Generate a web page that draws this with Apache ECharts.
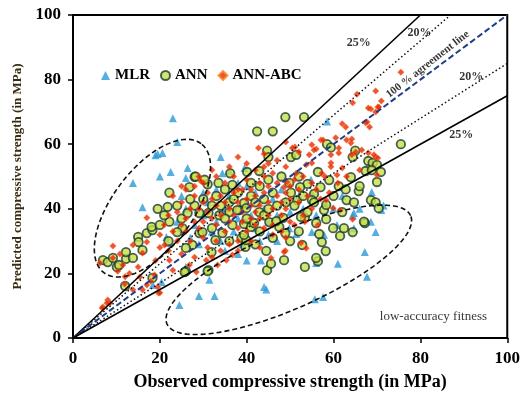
<!DOCTYPE html>
<html>
<head>
<meta charset="utf-8">
<script src="https://cdn.jsdelivr.net/npm/echarts@6/dist/echarts.min.js"></script>
<style>html,body{margin:0;padding:0;background:#fff}#c{width:523px;height:405px}</style>
</head>
<body>
<div id="c"></div>
<script>
// ---- data ----
const xTicks = [0, 20, 40, 60, 80, 100];
const seriesNames = ['MLR', 'ANN', 'ANN-ABC'];

const mlrData = [
[23,68],[19,56.6],[19.5,57],[20.6,57.3],[24,60.7],[13.8,48],[20,50],[22.5,51.4],[16,40.5],[26.4,52.6],[26,49.5],[34,56],[34.4,51],[36,51.7],[39.5,52.6],
[58.5,67],[68.8,45.2],[54.8,49],[64.4,38],[71,39.6],[68.6,36],[69.7,32.8],[64.7,34],[60.8,35],[57.8,32],[55,32.8],[51.4,32.2],[49.8,34],[67.2,26.6],[67.7,19],
[61,23],[56,23.2],[55.7,12],[57.6,12.7],[48.9,42.4],[24.5,10.2],[29,13],[32.6,13],[44,15.8],[44.5,15],[31.4,18],[26,22],[43.3,24],[45,32],[18.4,16.4],
[21.5,31.3],[21.8,29.4],[20.4,17.3],[64.7,38.7],[71.5,41],
[28,35],[30,38],[31,42],[33,36],[35,40],[36,44],[38,37],[40,42],[41,38],[42,45],[44,40],[45,36],[46,43],[47,38],[48,46],[50,39],[52,44],[53,40],
[27,31],[29,29],[32,33],[34,30],[37,33],[39,29],[42,34],[43,30],[47,30],[24,36],[26,40],[25,44],[33,46],[38,48],[30,45],[40,47],[55,45],[58,42],
[60,40],[62,44],[66,40],[56,38],[38,26],[35,27],[40,24]
];

const annData = [
[42.4,64],[28,49.9],[22.2,45],[46,64],[44.7,58],[45,56],[42.9,51.7],[40.1,51.4],[36.2,51],[28.2,50],[26.8,46.7],[31,47.6],[33.5,48],[36.7,47.4],[30.3,49],
[48.9,68.4],[53.2,68.4],[75.5,60],[58.5,60],[59.4,59],[50.2,56],[51.4,56.7],[65,58],[64.4,56],[68,54.8],[69,54.2],[70,53.6],[67.4,51.7],[68.8,52],[70.9,51.4],
[70,48.3],[64,49.8],[56.4,51.4],[59,48.9],[61.2,47],[62.8,46],[65.8,45.5],[57,46.7],[52,50],[54,47.7],[55.5,44.6],[52.3,46.7],[49.8,48],[50.2,45],
[63,42.7],[64.7,42],[68.6,42.7],[69.7,42],[70.4,40.2],[67.2,35.6],[64.4,32.8],[61.5,31.6],[59.9,34],[58.2,26.9],[56.4,23.8],[56,24.8],[53.4,22],[57.3,29.7],
[52.8,28.8],[48.6,24.1],[56.7,32.2],[53.4,37.2],[56,35.6],[58.3,36.8],[48.9,32.5],[47.5,34.4],[51.6,42.7],[55,42.7],[55.5,42],[57.8,39.6],[58.3,41.2],[52.5,37.5],[48.4,37.2],
[44.5,27],[39.7,28.2],[38.8,31],[39.4,35.3],[41,34.4],[41.7,35.6],[31.2,21],[31.9,26.6],[32.8,30.3],[26,20.7],[27.5,28.8],[26,27.9],[25.2,34],[29.1,32.5],
[36,42],[38.3,39.6],[39.4,41.8],[42.9,39],[45.2,35.9],[46.8,36.2],
[6.9,24.1],[8,23.5],[9.2,24.8],[10.1,22],[10.6,22.6],[12.2,24.5],[13.8,24.8],[15,31.3],[17,32.5],[18.3,33.4],[18.1,34.4],[12.2,26.6],[15.1,29.7],[16,27.2],
[19.5,40],[21.8,40.6],[22.2,36],[25,37],[26.4,38.7],[24,32.8],[18.3,18.6],[12,16.1],[25.7,20.4],[31,20.7],[39.9,30.3],[39.4,31.9],[34.4,32.5],[36.7,35],
[32,34],[29.8,32.8],[29.1,38.7],[31.2,38.7],[33.7,38],[36,39],[37.8,39.6],[39.9,40.2],
[30,43],[33,44],[35,46],[38,45],[41,44],[43,47],[44,43],[46,45],[47,41],[48,50],[45,49],[42,42],[34,41],[28,41],[27,43],[24,41],[21,38],[20,35],
[44,38],[46,31],[42,29],[50,30],[52,33],[54,39],[60,44],[62,39],[66,47],[41,48],[37,43],[32,41],[35,37],[43,33],[36,30],[49,42],[51,41],[53,44],
[45,40],[40,37],[22,30],[44.7,21],[45.6,23],[62.4,34],[67,36]
];

const annAbcData = [
[75.5,82.3],[69.7,76.5],[65.4,75.5],[71,73.4],[70.2,71.5],[68.6,70.9],[64.4,72.8],[67.4,66.6],[68.3,65.3],[62,66.3],[62.8,65.3],[60.5,62],[63,61.3],[64,60.4],
[57.1,61.3],[55,59.8],[56,58.5],[54.4,56.7],[51.1,59.1],[49,60.7],[61.2,57.3],[64.2,56.7],[65.1,57.6],[59.4,54.2],[68,57.3],[69.7,56],[70,50.5],[68,71.2],
[70.4,71.5],[69.7,70],[67.7,66.9],[57.6,61.3],[64.2,61.6],[55.5,58.2],[61.2,58.8],[59.4,56.7],[66.5,58.2],[69.3,56.7],[70.2,55.7],[50.5,58.8],[52,57.6],
[49,53],[53.7,53.6],[55,54.2],[59.4,53],[62,52.6],[60.8,50.5],[51.4,51],[57.3,51],[48.6,46.7],[49.3,48.3],[42.7,58.8],[29.4,48.6],
[9.2,28.5],[10.3,20.7],[6.9,9.6],[8,11.8],[8.5,10.8],[11.9,16.7],[15.4,18.9],[16,14.9],[13.8,14.9],[17,16.4],[19.7,13.9],[19.5,15.8],[17.9,17.6],[18.8,19.5],
[13.8,28.8],[16,26.3],[17,29.7],[9.2,24.8],[6.2,23.2],[11.5,22.6],[10.8,26],[6.7,9.3],[7.8,10.8],[20,14],[28.4,20.4],[26.8,22.6],[30.7,24.1],[33.3,22.6],
[35.3,24.1],[36.7,25.7],[22.2,24.1],[21.1,28.8],[17,37.2],
[20,32],[21,35],[22,38],[23,33],[24,30],[24,39],[25,35],[25,42],[26,33],[26,37],[27,40],[27,30],[28,36],[28,44],[29,34],[29,40],[30,31],[30,36],[30,42],
[31,28],[31,39],[31,45],[32,37],[32,43],[33,30],[33,35],[33,41],[34,38],[34,44],[34,27],[35,33],[35,42],[35,48],[36,36],[36,40],[36,29],[37,38],[37,45],
[37,50],[38,34],[38,42],[38,30],[39,39],[39,46],[39,36],[40,33],[40,43],[40,49],[41,37],[41,41],[41,46],[42,39],[42,44],[42,35],[43,41],[43,48],[43,37],
[44,45],[44,34],[44,50],[45,42],[45,38],[45,47],[46,40],[46,51],[46,35],[47,44],[47,48],[48,42],[48,38],[49,45],[49,40],[50,43],[50,47],[50,36],[51,49],
[52,42],[52,46],[53,50],[54,44],[55,48],[56,46],[58,50],[45,54],[42,52],[47,55],[40,54],[38,56],[44,57],[36,53],[33,50],[30,48],[28,47],[26,46],[23,44],
[22,27],[25,26],[28,25],[32,25],[38,27],[41,30],[43,28],[46,32],[48,33],[51,35],[53,38],[55,40],[57,43],[59,45],[61,48],[63,50],[66,52],[20,28],[23,21],
[19,24],[15,22],[13,20],[12,19],[25,47],[29,50],[32,52],[38,46],[44,53],
[48.9,27],[53.7,27.8],[52.5,29.4],[64.4,36.8],[61.5,39.6],[59.9,40.2],[49,31],[53.4,36],[56.4,35],[58.3,42.7],[48.6,26.6],[45.6,24.8]
];

// error-band slopes (predicted = factor * observed)
const bandFactors = [1.25, 1.15, 1.0, 0.85, 0.75];
const bandStyles  = ['solid', 'dotted', 'agree', 'dotted', 'solid'];

// annotation texts
const noteTexts = ['25%', '20%', '100 % agreement line', '20%', '25%', 'low-accuracy fitness'];
const notePos = [[65.8, 91.3], [79.8, 94.4], [81.7, 84.7], [91.7, 80.8], [89.4, 62.8], [83, 6.5]];

// ellipse annotations (center in data units, radii in x-data units, angle in degrees on screen)
const ellipses = [
  {cx: 18.3, cy: 40.2, a: 18.6, b: 9.2, angle: 53},
  {cx: 49.7, cy: 21.1, a: 30.7, b: 8.9, angle: 24}
];

// ---- chart ----
const serif = 'Liberation Serif, Times New Roman, serif';
const chart = echarts.init(document.getElementById('c'), null, {renderer: 'canvas'});

const lineSeries = bandFactors.map((f, i) => {
  const end = f >= 1 ? [100 / f, 100] : [100, 100 * f];
  const st = bandStyles[i];
  let lineStyle;
  if (st === 'solid') lineStyle = {color: '#000', width: 1.6, type: 'solid'};
  else if (st === 'dotted') lineStyle = {color: '#111', width: 1.5, type: [1.5, 2.5]};
  else lineStyle = {color: '#1f3c88', width: 2, type: [6, 3]};
  return {
    type: 'line', data: [[0, 0], end], symbol: 'none', silent: true,
    lineStyle, z: 4, animation: false
  };
});

const option = {
  animation: false,
  grid: {left: 73, right: 14, top: 15, bottom: 67, show: true, borderColor: '#000', borderWidth: 2},
  legend: {
    data: seriesNames, left: 96, top: 63, itemGap: 10, itemWidth: 9, itemHeight: 9,
    textStyle: {fontFamily: serif, fontWeight: 'bold', fontSize: 15, color: '#000'}
  },
  xAxis: {
    type: 'value', min: 0, max: 100, interval: 20,
    name: 'Observed compressive strength (in MPa)', nameLocation: 'middle', nameGap: 35,
    nameTextStyle: {fontFamily: serif, fontWeight: 'bold', fontSize: 18, color: '#000'},
    axisLine: {lineStyle: {color: '#000', width: 2}},
    axisTick: {show: true, inside: false, length: 5, lineStyle: {color: '#000', width: 1.5}},
    axisLabel: {fontFamily: serif, fontWeight: 'bold', fontSize: 17, color: '#000', margin: 12,
      formatter: v => xTicks.includes(v) ? String(v) : ''},
    splitLine: {show: false}
  },
  yAxis: {
    type: 'value', min: 0, max: 100, interval: 20,
    name: 'Predicted compressive strength (in MPa)', nameLocation: 'middle', nameGap: 49,
    nameTextStyle: {fontFamily: serif, fontWeight: 'bold', fontSize: 13, color: '#3a2c10'},
    axisLine: {lineStyle: {color: '#000', width: 2}},
    axisTick: {show: true, inside: false, length: 5, lineStyle: {color: '#000', width: 1.5}},
    axisLabel: {fontFamily: serif, fontWeight: 'bold', fontSize: 17, color: '#000', margin: 12},
    splitLine: {show: false}
  },
  series: [
    {
      name: 'MLR', type: 'scatter', data: mlrData, symbol: 'triangle', symbolSize: 8,
      itemStyle: {color: '#2b9ad8'}, z: 2
    },
    {
      name: 'ANN', type: 'scatter', data: annData, symbol: 'circle', symbolSize: 8.5,
      itemStyle: {color: '#c5e048', borderColor: '#1b3a2e', borderWidth: 1.8}, z: 2
    },
    {
      name: 'ANN-ABC', type: 'scatter', data: annAbcData, symbol: 'diamond', symbolSize: 6.5,
      itemStyle: {color: '#e8280c', borderColor: '#f98a1c', borderWidth: 0.5}, z: 2
    },
    ...lineSeries,
    {
      type: 'custom', silent: true, z: 5,
      data: ellipses.map(e => [e.cx, e.cy]),
      renderItem: function (params, api) {
        const e = ellipses[params.dataIndex];
        const c = api.coord([api.value(0), api.value(1)]);
        const unit = api.size([1, 1]);
        const a = e.a * unit[0], b = e.b * unit[0];
        const th = e.angle * Math.PI / 180;
        const pts = [];
        for (let k = 0; k <= 120; k++) {
          const t = k / 120 * Math.PI * 2;
          pts.push([
            c[0] + a * Math.cos(th) * Math.cos(t) - b * Math.sin(th) * Math.sin(t),
            c[1] - (a * Math.sin(th) * Math.cos(t) + b * Math.cos(th) * Math.sin(t))
          ]);
        }
        return {type: 'polyline', shape: {points: pts},
          style: {fill: null, stroke: '#111', lineWidth: 1.6, lineDash: [5, 3]}};
      }
    },
    {
      type: 'scatter', silent: true, z: 6, symbolSize: 0,
      data: noteTexts.map((t, i) => ({
        value: notePos[i],
        label: {
          show: true, position: 'inside', formatter: t,
          fontFamily: serif, color: '#000',
          fontWeight: i === 5 ? 'normal' : 'bold',
          fontSize: i === 5 ? 13 : (i === 2 ? 11 : 12),
          rotate: i === 2 ? 38 : 0
        }
      }))
    }
  ]
};
chart.setOption(option);
</script>
</body>
</html>
